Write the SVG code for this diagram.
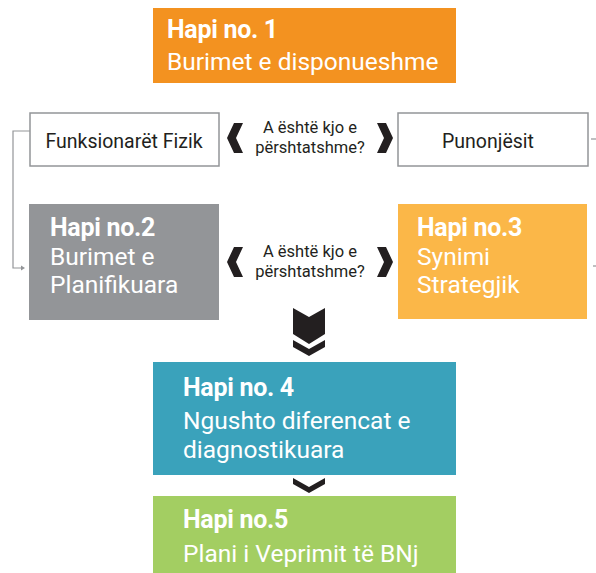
<svg xmlns="http://www.w3.org/2000/svg" width="596" height="573" viewBox="0 0 596 573">
<style>
.h{font-family:Roboto,"Liberation Sans",sans-serif;font-weight:bold;font-size:25px;fill:#fff;letter-spacing:-0.3px}
.b{font-family:Roboto,"Liberation Sans",sans-serif;font-size:24.5px;fill:#fff}
.s{font-family:Roboto,"Liberation Sans",sans-serif;font-size:19.5px;fill:#231f20;text-anchor:middle}
.q{font-family:Roboto,"Liberation Sans",sans-serif;font-size:16.5px;fill:#231f20;text-anchor:middle}
.wb{fill:#fff;stroke:#939598;stroke-width:1.5}
.ch{fill:#231f20}
.ln{fill:none;stroke:#939598;stroke-width:1.2}
</style>
<rect width="596" height="573" fill="#fff"/>
<g id="connectors">
<path class="ln" d="M30,131 H13 V268 H23"/>
<path d="M21,265.5 L25,268 L21,270.5 Z" fill="#939598"/>
<path class="ln" d="M591,139 H596"/>
<path class="ln" d="M593,266 H596"/>
<polygon class="ch" points="234,123 243,123 236,138 243,153 234,153 227,138"/>
<polygon class="ch" points="377,123 386,123 393,138 386,153 377,153 384,138"/>
<polygon class="ch" points="234,247 243,247 236,262 243,277 234,277 227,262"/>
<polygon class="ch" points="377,247 386,247 393,262 386,277 377,277 384,262"/>
<polygon class="ch" points="293,308 309,317 325,308 325,334 309,344 293,334"/>
<polygon class="ch" points="293,340 309,349 325,340 325,347 309,356 293,347"/>
<polygon class="ch" points="293,478 309,487 325,478 325,484 309,493 293,484"/>
</g>
<g id="step1">
<rect x="153" y="8" width="303" height="75" fill="#f39220"/>
<text class="h" x="167" y="38">Hapi no. 1</text>
<text class="b" x="167" y="70">Burimet e disponueshme</text>
</g>
<g id="funksionaret">
<rect class="wb" x="30" y="113" width="189" height="53"/>
<text class="s" x="124" y="148">Funksionarët Fizik</text>
</g>
<g id="punonjesit">
<rect class="wb" x="398" y="113" width="190" height="53"/>
<text class="s" x="488" y="148">Punonjësit</text>
</g>
<g id="question1">
<text class="q" x="310" y="133">A është kjo e</text>
<text class="q" x="310" y="153">përshtatshme?</text>
</g>
<g id="step2">
<rect x="29" y="204" width="190" height="116" fill="#939598"/>
<text class="h" x="50" y="236">Hapi no.2</text>
<text class="b" x="50" y="265">Burimet e</text>
<text class="b" x="50" y="293">Planifikuara</text>
</g>
<g id="question2">
<text class="q" x="310" y="257">A është kjo e</text>
<text class="q" x="310" y="277">përshtatshme?</text>
</g>
<g id="step3">
<rect x="398" y="204" width="189" height="115" fill="#fbb748"/>
<text class="h" x="417" y="236">Hapi no.3</text>
<text class="b" x="417" y="265">Synimi</text>
<text class="b" x="417" y="293">Strategjik</text>
</g>
<g id="step4">
<rect x="153" y="362" width="303" height="113" fill="#3aa2bb"/>
<text class="h" x="183" y="396">Hapi no. 4</text>
<text class="b" x="183" y="429">Ngushto diferencat e</text>
<text class="b" x="183" y="458">diagnostikuara</text>
</g>
<g id="step5">
<rect x="153" y="496" width="303" height="77" fill="#a3ce62"/>
<text class="h" x="183" y="528">Hapi no.5</text>
<text class="b" x="183" y="562">Plani i Veprimit të BNj</text>
</g>
</svg>
